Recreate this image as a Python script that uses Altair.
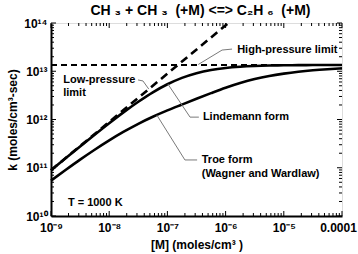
import altair as alt
import pandas as pd

FONT = "Liberation Sans"

# Concentration grid (moles/cm^3), quarter-decade steps
conc = [1e-9, 1.778e-9, 3.162e-9, 5.623e-9,
        1e-8, 1.778e-8, 3.162e-8, 5.623e-8,
        1e-7, 1.778e-7, 3.162e-7, 5.623e-7,
        1e-6, 1.778e-6, 3.162e-6, 5.623e-6,
        1e-5, 1.778e-5, 3.162e-5, 5.623e-5, 1e-4]

# Rate constant k (moles/cm^3-sec), Lindemann fall-off form
k_lindemann = [8.85e10, 1.567e11, 2.76e11, 4.83e11,
               8.36e11, 1.419e12, 2.33e12, 3.66e12,
               5.37e12, 7.29e12, 9.12e12, 1.063e13,
               1.172e13, 1.243e13, 1.288e13, 1.314e13,
               1.327e13, 1.337e13, 1.343e13, 1.345e13, 1.346e13]

# Rate constant k, Troe fall-off form (Wagner and Wardlaw)
k_troe = [5.40e10, 8.97e10, 1.472e11, 2.36e11,
          3.69e11, 5.58e11, 8.15e11, 1.140e12,
          1.542e12, 2.04e12, 2.69e12, 3.52e12,
          4.55e12, 5.70e12, 6.89e12, 7.98e12,
          8.93e12, 9.77e12, 1.047e13, 1.102e13, 1.146e13]

# Limiting behaviour
hp_conc = [1e-9, 1e-4]
hp_k = [1.35e13, 1.35e13]
lp_conc = [1e-9, 1.12e-6]
lp_k = [8.9e10, 1e14]

# Axis ticks and labels
x_ticks = [1e-9, 1e-8, 1e-7, 1e-6, 1e-5, 1e-4]
x_labels = ["10⁻⁹", "10⁻⁸", "10⁻⁷", "10⁻⁶", "10⁻⁵", "0.0001"]
y_ticks = [1e10, 1e11, 1e12, 1e13, 1e14]
y_labels = ["10¹⁰", "10¹¹", "10¹²", "10¹³", "10¹⁴"]

# Annotation labels (anchored in data coordinates)
note_text = ["High-pressure limit", "Low-pressure", "limit", "Lindemann form",
             "Troe form", "(Wagner and Wardlaw)", "T = 1000 K"]
note_conc = [1.58e-6, 1.62e-9, 1.62e-9, 4.07e-7, 3.89e-7, 3.89e-7, 1.95e-9]
note_k = [2.75e13, 6.6e12, 3.55e12, 1.12e12, 1.45e11, 7.4e10, 1.86e10]

# Leader lines from labels to curves
leader_id = ["hp", "hp", "hp", "lp", "lp", "lp", "lind", "lind", "lind", "troe", "troe", "troe"]
leader_order = [0, 1, 2, 0, 1, 2, 0, 1, 2, 0, 1, 2]
leader_conc = [1.29e-6, 8.7e-7, 3.39e-7,
               3.13e-8, 3.8e-8, 4.79e-8,
               3.47e-7, 2.45e-7, 1.02e-7,
               3.24e-7, 2.0e-7, 6.6e-8]
leader_k = [2.88e13, 2.75e13, 1.38e13,
            6.6e12, 6.3e12, 4.27e12,
            1.12e12, 1.12e12, 5.43e12,
            1.45e11, 1.45e11, 1.23e12]

W, H = 291, 193

x_scale = alt.Scale(type="log", domain=[1e-9, 1e-4], nice=False)
y_scale = alt.Scale(type="log", domain=[1e10, 1e14], nice=False)


def label_expr(ticks, labels):
    expr = "'" + labels[-1] + "'"
    for t, lab in reversed(list(zip(ticks[:-1], labels[:-1]))):
        expr = f"datum.value < {t * 3:g} ? '{lab}' : " + expr
    return expr


x_axis = alt.Axis(values=x_ticks, labelExpr=label_expr(x_ticks, x_labels), ticks=False,
                  grid=False, domainColor="black", domainWidth=2, labelFlush=False,
                  labelOffset={"condition": {"test": "datum.value > 5e-5", "value": -4},
                               "value": 0},
                  labelFont=FONT, labelFontSize=12, labelFontWeight="bold", labelColor="black",
                  labelPadding=6, title="[M] (moles/cm³ )", titleFont=FONT, titleFontSize=12,
                  titleFontWeight="bold", titleColor="black", titlePadding=6)
y_axis = alt.Axis(values=y_ticks, labelExpr=label_expr(y_ticks, y_labels), ticks=False,
                  grid=False, domainColor="black", domainWidth=2,
                  labelFont=FONT, labelFontSize=12, labelFontWeight="bold", labelColor="black",
                  labelPadding=4, title="k (moles/cm³-sec)", titleFont=FONT, titleFontSize=12,
                  titleFontWeight="bold", titleColor="black", titlePadding=4)


def X(field):
    return alt.X(field, type="quantitative", scale=x_scale, axis=x_axis)


def Y(field):
    return alt.Y(field, type="quantitative", scale=y_scale, axis=y_axis)


curves = pd.DataFrame({
    "conc": conc * 2,
    "k": k_lindemann + k_troe,
    "form": ["Lindemann"] * len(conc) + ["Troe"] * len(conc),
})

curve_layer = alt.Chart(curves).mark_line(color="black", strokeWidth=2.6,
                                          interpolate="monotone").encode(
    x=X("conc"), y=Y("k"), detail="form:N",
)

hp_layer = alt.Chart(pd.DataFrame({"conc": hp_conc, "k": hp_k})).mark_line(
    color="black", strokeWidth=2, strokeDash=[6, 4]).encode(x=X("conc"), y=Y("k"))

lp_layer = alt.Chart(pd.DataFrame({"conc": lp_conc, "k": lp_k})).mark_line(
    color="black", strokeWidth=2.6, strokeDash=[8, 5]).encode(x=X("conc"), y=Y("k"))

leaders = pd.DataFrame({"id": leader_id, "ord": leader_order,
                        "conc": leader_conc, "k": leader_k})
leader_layer = alt.Chart(leaders).mark_line(color="#7a7a7a", strokeWidth=1).encode(
    x=X("conc"), y=Y("k"), detail="id:N", order="ord:Q",
)

notes = pd.DataFrame({"text": note_text, "conc": note_conc, "k": note_k})
note_layer = alt.Chart(notes).mark_text(align="left", baseline="middle", font=FONT,
                                        fontSize=11, fontWeight="bold", color="black").encode(
    x=X("conc"), y=Y("k"), text="text:N",
)

# Inward tick marks on all four sides
x_minor = [m * 10.0 ** e for e in range(-9, -4) for m in range(2, 10)]
y_minor = [m * 10.0 ** e for e in range(10, 14) for m in range(2, 10)]


def xticks(vals, length):
    df = pd.DataFrame({"conc": vals})
    base = alt.Chart(df).mark_rule(color="black", strokeWidth=1)
    bottom = base.encode(x=X("conc"), y=alt.value(H), y2=alt.value(H - length))
    top = base.encode(x=X("conc"), y=alt.value(0), y2=alt.value(length))
    return [bottom, top]


def yticks(vals, length):
    df = pd.DataFrame({"k": vals})
    base = alt.Chart(df).mark_rule(color="black", strokeWidth=1)
    left = base.encode(y=Y("k"), x=alt.value(0), x2=alt.value(length))
    right = base.encode(y=Y("k"), x=alt.value(W), x2=alt.value(W - length))
    return [left, right]


tick_layers = xticks(x_ticks, 5) + xticks(x_minor, 3) + yticks(y_ticks, 5) + yticks(y_minor, 3)

title_text = "CH\u00a0₃ + CH\u00a0₃\u00a0 (+M) <=> C₂H\u00a0₆\u00a0 (+M)"

chart = alt.layer(
    curve_layer, hp_layer, lp_layer, leader_layer, note_layer, *tick_layers
).properties(
    width=W, height=H,
    title=alt.TitleParams(text=title_text, font=FONT, fontSize=14,
                          fontWeight="bold", color="black", anchor="middle", offset=-1, dx=4),
    autosize=alt.AutoSizeParams(type="none"),
    padding={"left": 51, "top": 23, "right": 16, "bottom": 38},
).configure_view(stroke="black", strokeWidth=1.5).configure(background="white")

chart.save("out.html", embed_options={"renderer": "svg", "actions": False})
